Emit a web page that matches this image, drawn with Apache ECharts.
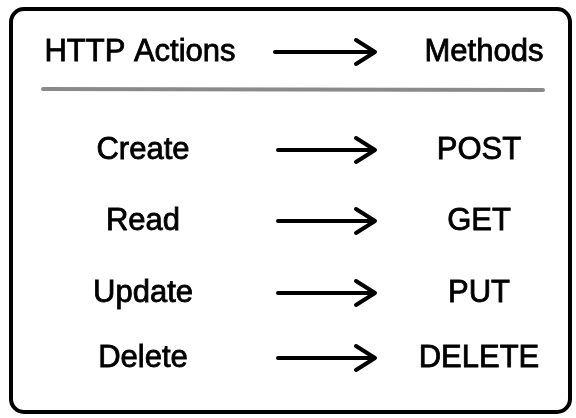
<!DOCTYPE html>
<html><head><meta charset="utf-8">
<script src="https://cdn.jsdelivr.net/npm/echarts@6/dist/echarts.min.js"></script>
<style>html,body{margin:0;padding:0;background:#fff}#c{width:576px;height:418px}</style>
</head><body><div id="c"></div>
<script>
var headerLeft = 'HTTP Actions';
var headerRight = 'Methods';
var actions = ['Create', 'Read', 'Update', 'Delete'];
var methods = ['POST', 'GET', 'PUT', 'DELETE'];

// layout (pixel space of the hidden axes)
var rowY = [150, 221, 293, 358];
var headerY = 52;
var leftX = 143, rightX = 479, headerRightX = 484;
var arrowX0 = 278, arrowX1 = 375;
var FONT = '"Liberation Sans", Arial, sans-serif';

var textData = [];
textData.push({value: [140, headerY], name: headerLeft});
textData.push({value: [headerRightX, headerY], name: headerRight});
actions.forEach(function (a, i) { textData.push({value: [leftX, rowY[i]], name: a}); });
methods.forEach(function (m, i) { textData.push({value: [rightX, rowY[i]], name: m}); });

var arrowData = [[arrowX0 - 3, headerY]];
rowY.forEach(function (y) { arrowData.push([arrowX0, y]); });

var chart = echarts.init(document.getElementById('c'), null, {renderer: 'canvas'});
chart.setOption({
  animation: false,
  backgroundColor: '#fff',
  grid: {left: 0, right: 0, top: 0, bottom: 0},
  xAxis: {type: 'value', min: 0, max: 576, show: false},
  yAxis: {type: 'value', min: 0, max: 418, inverse: true, show: false},
  graphic: [
    {type: 'rect', shape: {x: 11, y: 9, width: 559, height: 403, r: 13},
     style: {fill: 'none', stroke: '#000', lineWidth: 4}},
    {type: 'line', shape: {x1: 43, y1: 89, x2: 543, y2: 90},
     style: {stroke: '#8a8a8a', lineWidth: 4, lineCap: 'round'}}
  ],
  series: [
    {
      type: 'scatter', symbolSize: 0, data: textData,
      itemStyle: {opacity: 1},
      label: {show: true, position: 'inside', formatter: '{b}', color: '#000',
              fontFamily: FONT, fontSize: 31, fontWeight: 'normal', opacity: 1,
              textBorderColor: '#000', textBorderWidth: 0.8}
    },
    {
      type: 'custom', data: arrowData,
      renderItem: function (params, api) {
        var p0 = api.coord([api.value(0), api.value(1)]);
        var p1 = api.coord([arrowX1, api.value(1)]);
        return {type: 'group', children: [
          {type: 'line', shape: {x1: p0[0], y1: p0[1], x2: p1[0] - 2, y2: p1[1]},
           style: {stroke: '#000', lineWidth: 4, lineCap: 'round'}},
          {type: 'polyline', shape: {points: [[p1[0] - 19, p1[1] - 12], [p1[0], p1[1]], [p1[0] - 19, p1[1] + 12]]},
           style: {stroke: '#000', fill: 'none', lineWidth: 4, lineCap: 'round', lineJoin: 'round'}}
        ]};
      }
    }
  ]
});
</script></body></html>
